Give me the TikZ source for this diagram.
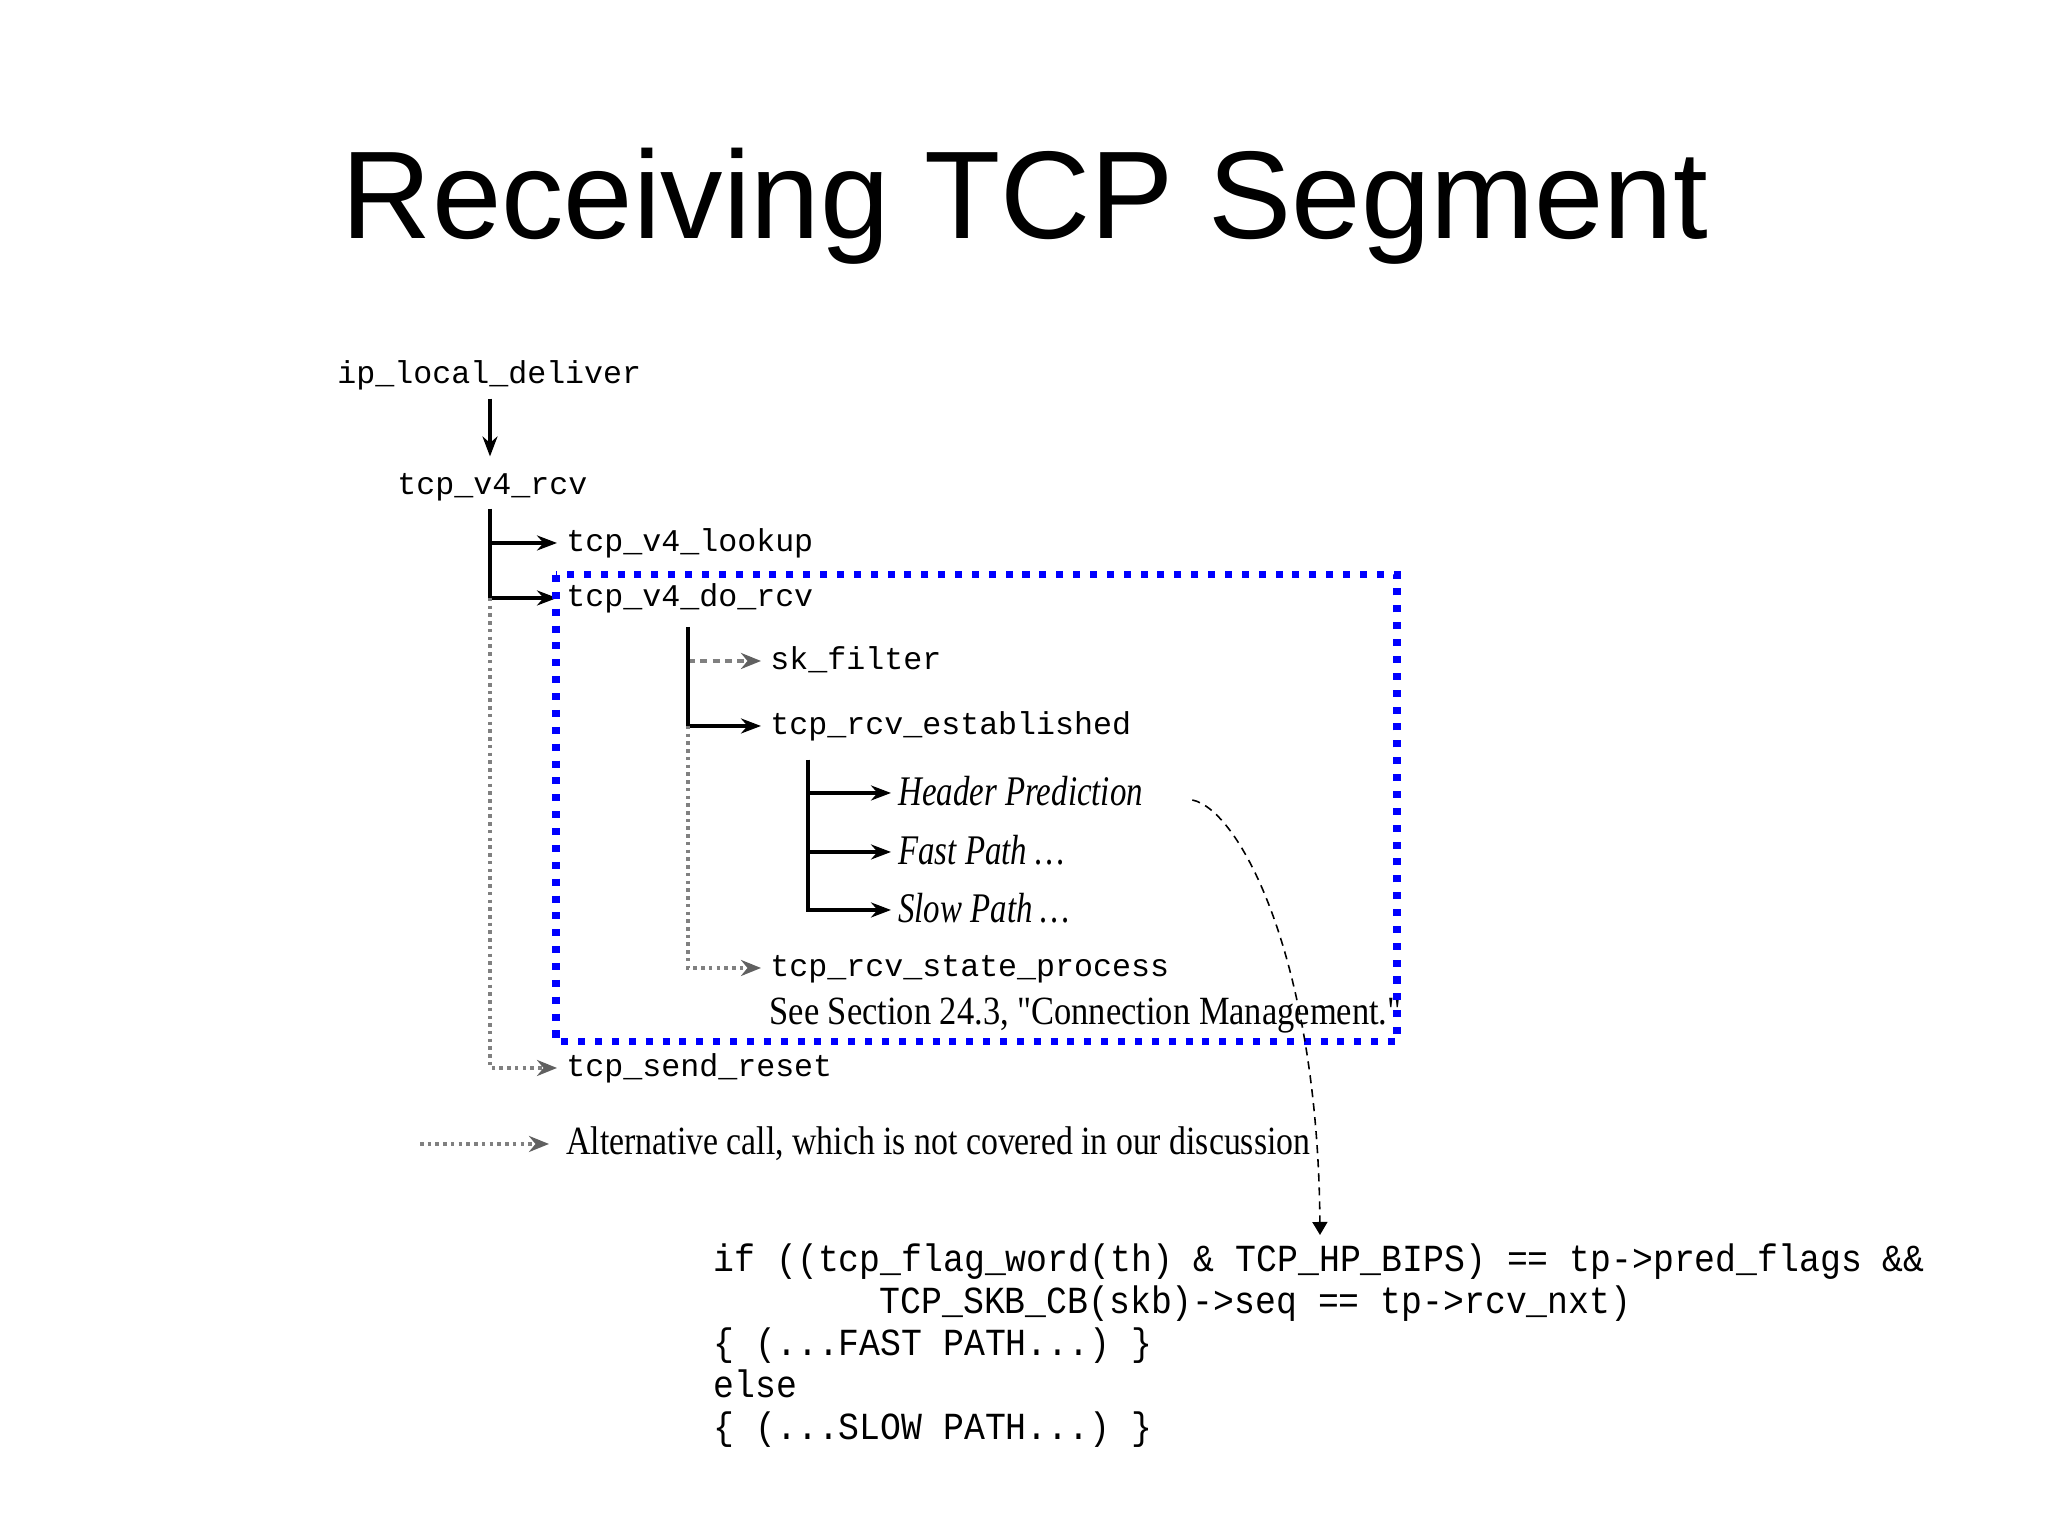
\documentclass[tikz,border=0pt]{standalone}
\usepackage{fontspec}
\setmainfont{Liberation Serif}
\setmonofont{Liberation Mono}
\newfontfamily\titlefont{Liberation Sans}
\usepackage{tikz}
\usetikzlibrary{arrows.meta}

\begin{document}
\begin{tikzpicture}[>={Stealth[length=2mm,width=1.5mm]},line cap=butt,
  fn/.style={anchor=west,inner xsep=2.5pt,inner ysep=0pt,text height=5pt,text depth=0pt,font=\ttfamily\fontsize{9}{11}\selectfont},
  path/.style={anchor=west,inner xsep=2.5pt,inner ysep=0pt,text height=7pt,text depth=0pt,xscale=0.78,font=\itshape\fontsize{12}{14}\selectfont},
  remark/.style={anchor=base west,inner sep=0pt,xscale=0.86,font=\fontsize{11.4}{13}\selectfont},
  codeline/.style={anchor=base west,inner sep=0pt,yscale=1.1,font=\ttfamily\fontsize{9.9}{12}\selectfont},
  call/.style={->,line width=0.9pt},
  alt/.style={gray,line width=1pt,dash pattern=on 1pt off 1.2pt,-{Stealth[length=2mm,width=1.6mm,color=gray!75!black]}},
  hint/.style={line width=0.45pt,dash pattern=on 2.3pt off 1.7pt,-{Triangle[length=1.3mm,width=1.5mm]}}]
\useasboundingbox (0,0) rectangle (20.48,15.36);
\node[font=\titlefont\fontsize{35.5}{40}\selectfont,anchor=base] (title) at (10.25,12.97) {Receiving TCP Segment};
\node[fn] (deliver) at (3.28,11.61) {ip\_local\_deliver};
\node[fn] (v4rcv) at (3.88,10.50) {tcp\_v4\_rcv};
\node[fn] (lookup) at (5.57,9.93) {tcp\_v4\_lookup};
\node[fn] (dorcv) at (5.57,9.38) {tcp\_v4\_do\_rcv};
\node[fn] (skfilter) at (7.61,8.75) {sk\_filter};
\node[fn] (established) at (7.61,8.10) {tcp\_rcv\_established};
\node[path] (hdrpred) at (8.91,7.43) {Header Prediction};
\node[path] (fastpath) at (8.91,6.84) {Fast Path \ldots};
\node[path] (slowpath) at (8.91,6.26) {Slow Path \ldots};
\node[fn] (stateproc) at (7.61,5.68) {tcp\_rcv\_state\_process};
\node[remark] (seesec) at (7.69,5.11) {See Section 24.3, \textquotedbl Connection Management.\textquotedbl};
\node[fn] (sendreset) at (5.57,4.68) {tcp\_send\_reset};
\node[remark,xscale=0.98] (legend) at (5.66,3.81) {Alternative call, which is not covered in our discussion};
\node[codeline] (code1) at (7.13,2.64) {if ((tcp\_flag\_word(th) \& TCP\_HP\_BIPS) == tp->pred\_flags \&\&};
\node[codeline] (code2) at (8.79,2.22) {TCP\_SKB\_CB(skb)->seq == tp->rcv\_nxt)};
\node[codeline] (code3) at (7.13,1.80) {\{ (...FAST PATH...) \}};
\node[codeline] (code4) at (7.13,1.38) {else};
\node[codeline] (code5) at (7.13,0.96) {\{ (...SLOW PATH...) \}};
\coordinate (trunkA) at (4.90,10.27);
\coordinate (trunkB) at (6.88,9.09);
\coordinate (trunkC) at (8.08,7.76);
\coordinate (altkey) at (4.20,3.92);
\coordinate (hinttip) at (13.20,3.01);
\draw[call,shorten <=4pt,shorten >=5.7pt] (deliver.south -| trunkA) -- (v4rcv.north -| trunkA);
\draw[call] (trunkA) |- (lookup.west);
\draw[call] (trunkA) |- (dorcv.west);
\draw[alt] (trunkA |- dorcv.west) |- (sendreset.west);
\draw[alt,dash pattern=on 2pt off 1.5pt] (trunkB |- skfilter.west) -- (skfilter.west);
\draw[call] (trunkB) |- (established.west);
\draw[alt] (trunkB |- established.west) |- (stateproc.west);
\draw[call] (trunkC) |- (hdrpred.west);
\draw[call] (trunkC) |- (fastpath.west);
\draw[call] (trunkC) |- (slowpath.west);
\draw[alt,shorten >=1.7mm] (altkey) -- (altkey -| legend.west);
\draw[blue,line width=2pt,dash pattern=on 2pt off 2.8pt] (5.56,9.61) rectangle (13.97,4.94);
\draw[hint] ([xshift=4.2mm,yshift=-0.7mm]hdrpred.east) .. controls (12.40,7.26) and (13.18,5.76) .. (hinttip);
\end{tikzpicture}
\end{document}
